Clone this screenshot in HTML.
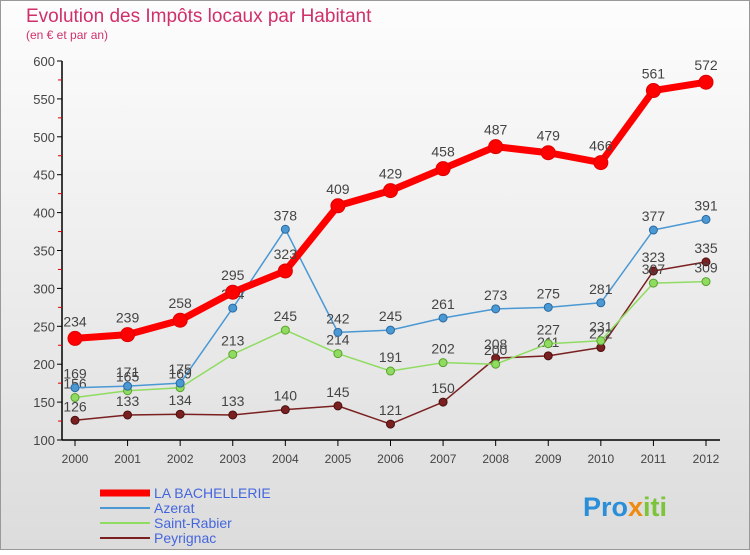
<!DOCTYPE html>
<html><head><meta charset="utf-8"><style>
body{margin:0;width:750px;height:550px;overflow:hidden;font-family:"Liberation Sans",sans-serif}
</style></head><body>
<svg id="c" width="750" height="550" xmlns="http://www.w3.org/2000/svg">
<defs><linearGradient id="bg" x1="0" y1="0" x2="0" y2="1"><stop offset="0" stop-color="#fdfdfd"/><stop offset="1" stop-color="#dcdcdc"/></linearGradient></defs>
<rect x="0.5" y="0.5" width="749" height="549" fill="url(#bg)" stroke="#999"/>
<text x="26" y="22" font-size="19" fill="#d0306a">Evolution des Impôts locaux par Habitant</text>
<text x="26" y="39" font-size="12" fill="#d0306a">(en € et par an)</text>
<g id="axes"></g><g id="series"></g>
<g font-size="14">
<line x1="100" y1="493" x2="150" y2="493" stroke="#ff0000" stroke-width="7"/>
<text x="154" y="498" fill="#4466dd">LA BACHELLERIE</text>
<line x1="100" y1="508" x2="150" y2="508" stroke="#4a98d4" stroke-width="2"/>
<text x="154" y="513" fill="#4466dd">Azerat</text>
<line x1="100" y1="523" x2="150" y2="523" stroke="#8fdc60" stroke-width="2"/>
<text x="154" y="528" fill="#4466dd">Saint-Rabier</text>
<line x1="100" y1="538" x2="150" y2="538" stroke="#7a2020" stroke-width="2"/>
<text x="154" y="543" fill="#4466dd">Peyrignac</text>
</g>
<text x="583" y="516" font-size="27" font-weight="bold" fill="#2a8fd8">Pro<tspan fill="#f08a10">x</tspan><tspan fill="#7cc43a">iti</tspan></text>
</svg>
<script>
const years=[2000,2001,2002,2003,2004,2005,2006,2007,2008,2009,2010,2011,2012];
const bach=[234,239,258,295,323,409,429,458,487,479,466,561,572];
const azerat=[169,171,175,274,378,242,245,261,273,275,281,377,391];
const rabier=[156,165,169,213,245,214,191,202,200,227,231,307,309];
const peyr=[126,133,134,133,140,145,121,150,208,211,222,323,335];
const yTicks=[100,150,200,250,300,350,400,450,500,550,600];
const NS="http://www.w3.org/2000/svg";
const X=i=>75+i*(706-75)/12, Y=v=>440-(v-100)*(379/500);
function mk(t,a,p){const e=document.createElementNS(NS,t);for(const k in a)e.setAttribute(k,a[k]);p.appendChild(e);return e;}
const ax=document.getElementById('axes');
let yl=mk('line',{x1:62,y1:Y(600),x2:62,y2:440,stroke:'#000','stroke-width':1.5},ax);


let xl=mk('line',{x1:62,y1:440,x2:720,y2:440,stroke:'#000','stroke-width':1.5},ax);


yTicks.forEach((v,i)=>{
 mk('line',{x1:57,y1:Y(v),x2:62,y2:Y(v),stroke:'#000'},ax);
 if(i<yTicks.length-1)mk('line',{x1:58,y1:Y(v+25),x2:62,y2:Y(v+25),stroke:'#d00'},ax);
 const t=mk('text',{x:55,y:Y(v)+5,'text-anchor':'end','font-size':13,fill:'#444'},ax);t.textContent=v;
 
 
});
years.forEach((y,i)=>{
 mk('line',{x1:X(i),y1:440,x2:X(i),y2:446,stroke:'#000'},ax);
 const t=mk('text',{x:X(i),y:463,'text-anchor':'middle','font-size':12,fill:'#444'},ax);t.textContent=y;
 
 
});
const sg=document.getElementById('series');
function draw(d,col,w,r,name,dark){
 const g=mk('g',{},sg);
 
 
 mk('polyline',{points:d.map((v,i)=>X(i)+','+Y(v)).join(' '),fill:'none',stroke:col,'stroke-width':w,'stroke-linejoin':'round'},g);
 d.forEach((v,i)=>{
  const c=mk('circle',{cx:X(i),cy:Y(v),r:r,fill:col,stroke:dark,'stroke-width':1},g);
  
  
  const t=mk('text',{x:X(i),y:Y(v)-r-5,'text-anchor':'middle','font-size':14,fill:'#444'},g);t.textContent=v;
 });
}
draw(peyr,'#7a2020',1.5,4,'series-peyrignac','#4a1010');
draw(rabier,'#8fdc60',1.5,4,'series-saint-rabier','#5aa030');
draw(azerat,'#4a98d4',1.5,4,'series-azerat','#2a6aa0');
draw(bach,'#ff0000',7,7,'series-la-bachellerie','#dd0000');
</script>
</body></html>
